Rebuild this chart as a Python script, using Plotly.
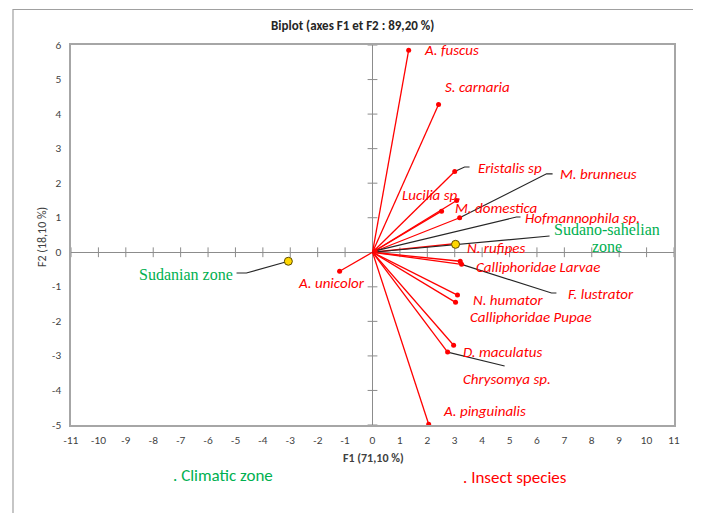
import plotly.graph_objects as go

# ---------------- data ----------------
species = ["A. fuscus", "S. carnaria", "Eristalis sp", "Lucilia sp.", "M. domestica",
           "M. brunneus", "Hofmannophila sp.", "N. rufipes", "Calliphoridae Larvae",
           "F. lustrator", "N. humator", "Calliphoridae Pupae", "D. maculatus",
           "Chrysomya sp.", "A. pinguinalis", "A. unicolor"]
species_f1 = [1.32, 2.41, 3.00, 3.07, 2.52, 3.18, 0.10, 3.00, 3.20,
              3.25, 3.10, 3.03, 2.96, 2.74, 2.05, -1.20]
species_f2 = [5.85, 4.28, 2.34, 1.50, 1.19, 1.00, 0.04, 0.25, -0.26,
              -0.35, -1.24, -1.45, -2.69, -2.89, -4.98, -0.55]

zones = ["Sudanian zone", "Sudano-sahelian zone"]
zone_f1 = [-3.07, 3.03]
zone_f2 = [-0.26, 0.23]

x_ticks = list(range(-11, 12))
y_ticks = list(range(-5, 7))
x_tick_text = [str(v) for v in x_ticks]
y_tick_text = [str(v) for v in y_ticks]

# ---------------- layout helpers (label placement) ----------------
species_label_pos = {
    "A. fuscus": (1.80, 5.85), "S. carnaria": (2.57, 4.78), "Eristalis sp": (3.76, 2.43),
    "Lucilia sp.": (0.99, 1.65), "M. domestica": (2.92, 1.27), "M. brunneus": (6.76, 2.27),
    "Hofmannophila sp.": (5.48, 0.98), "N. rufipes": (3.36, 0.12),
    "Calliphoridae Larvae": (3.69, -0.43), "F. lustrator": (7.05, -1.20),
    "N. humator": (3.58, -1.39), "Calliphoridae Pupae": (3.47, -1.88),
    "D. maculatus": (3.22, -2.89), "Chrysomya sp.": (3.22, -3.68),
    "A. pinguinalis": (2.49, -4.60), "A. unicolor": (-2.78, -0.90),
}
# each zone label as (text line, x centre, y)
zone_label_lines = {
    "Sudanian zone": [("Sudanian zone", -6.80, -0.63)],
    "Sudano-sahelian zone": [("Sudano-sahelian", 8.55, 0.67), ("zone", 8.55, 0.18)],
}

# leader lines: extra waypoints toward the labels
species_leaders = {
    "Eristalis sp": [(3.36, 2.47), (3.54, 2.47)],
    "M. brunneus": [(6.35, 2.27), (6.57, 2.27)],
    "Hofmannophila sp.": [(5.25, 1.02), (5.40, 1.02)],
    "F. lustrator": [(6.53, -1.18), (6.71, -1.18)],
    "Chrysomya sp.": [(4.82, -3.29)],
}
zone_leaders = {
    "Sudanian zone": [(-4.60, -0.60), (-4.96, -0.60)],
    "Sudano-sahelian zone": [(6.46, 0.47)],
}

RED = "#FF0000"
GREEN = "#00B050"
LABEL_FONT = "Carlito, Calibri, Lato, sans-serif"

# browser body margin (8px) compensation
OFF = 8
PL, PT, PW, PH = 71, 45, 603, 380   # plot area in page pixels

fig = go.Figure()

# cross ticks on the zero axes
fig.add_trace(go.Scatter(x=[v for v in x_ticks if v != 0], y=[0] * (len(x_ticks) - 1),
                         mode="markers", hoverinfo="skip", showlegend=False,
                         marker=dict(symbol="line-ns", size=7, line=dict(color="#8C8C8C", width=1))))
fig.add_trace(go.Scatter(x=[0] * (len(y_ticks) - 1), y=[v for v in y_ticks if v != 0],
                         mode="markers", hoverinfo="skip", showlegend=False,
                         marker=dict(symbol="line-ew", size=7, line=dict(color="#8C8C8C", width=1))))

# red vectors
vx, vy = [], []
for a, b in zip(species_f1, species_f2):
    vx += [0, a, None]
    vy += [0, b, None]
fig.add_trace(go.Scatter(x=vx, y=vy, mode="lines", line=dict(color=RED, width=1.3),
                         hoverinfo="skip", showlegend=False))

# leader lines (black)
lx, ly = [], []
for name, pts in species_leaders.items():
    i = species.index(name)
    path = [(species_f1[i], species_f2[i])] + pts
    lx += [p[0] for p in path] + [None]
    ly += [p[1] for p in path] + [None]
for name, pts in zone_leaders.items():
    i = zones.index(name)
    start = [(zone_f1[i], zone_f2[i])]
    if i == 1:  # this leader reaches back to the origin through the zone point
        start = [(0, 0)] + start
    path = start + pts
    lx += [p[0] for p in path] + [None]
    ly += [p[1] for p in path] + [None]
fig.add_trace(go.Scatter(x=lx, y=ly, mode="lines", line=dict(color="#262626", width=1.1),
                         hoverinfo="skip", showlegend=False))

# species points
fig.add_trace(go.Scatter(x=species_f1, y=species_f2, mode="markers",
                         marker=dict(color=RED, size=5), showlegend=False, text=species))

# zone points
fig.add_trace(go.Scatter(x=zone_f1, y=zone_f2, mode="markers",
                         marker=dict(color="#FFD700", size=8, line=dict(color="#5C4A00", width=1)),
                         showlegend=False, text=zones))

ann = []
for name in species:
    x, y = species_label_pos[name]
    ann.append(dict(x=x, y=y, xref="x", yref="y", text=f"<i>{name}</i>", showarrow=False,
                    xanchor="left", yanchor="middle",
                    font=dict(family=LABEL_FONT, size=15, color=RED)))
for name in zones:
    for txt, x, y in zone_label_lines[name]:
        ann.append(dict(x=x, y=y, xref="x", yref="y", text=txt, showarrow=False,
                        xanchor="center", yanchor="middle",
                        font=dict(family="Liberation Serif, Times New Roman, serif", size=16,
                                  color=GREEN)))


def px(xp):
    return (xp - PL) / PW


def py(yp):
    return (PT + PH - yp) / PH


ann.append(dict(x=px(352), y=py(26), xref="paper", yref="paper",
                text="<b>Biplot (axes F1 et F2 : 89,20 %)</b>", showarrow=False,
                xanchor="center", yanchor="middle",
                font=dict(family=LABEL_FONT, size=13, color="#262626")))
ann.append(dict(x=px(373), y=py(458), xref="paper", yref="paper", text="<b>F1 (71,10 %)</b>",
                showarrow=False, xanchor="center", yanchor="middle",
                font=dict(family=LABEL_FONT, size=12, color="#404040")))
ann.append(dict(x=px(42), y=py(237), xref="paper", yref="paper", text="F2 (18,10 %)",
                showarrow=False, xanchor="center", yanchor="middle", textangle=-90,
                font=dict(family=LABEL_FONT, size=12, color="#404040")))
ann.append(dict(x=px(171), y=py(475), xref="paper", yref="paper", text=". Climatic zone",
                showarrow=False, xanchor="left", yanchor="middle",
                font=dict(family=LABEL_FONT, size=17, color=GREEN)))
ann.append(dict(x=px(461), y=py(478), xref="paper", yref="paper", text=". Insect species",
                showarrow=False, xanchor="left", yanchor="middle",
                font=dict(family=LABEL_FONT, size=17, color=RED)))

shapes = [dict(type="rect", xref="paper", yref="paper",
               x0=px(13), x1=px(760), y0=py(560), y1=py(9.5),
               line=dict(color="#A0A0A0", width=1.2), fillcolor="rgba(0,0,0,0)", layer="below")]

axis_common = dict(showgrid=False, zeroline=True, zerolinecolor="#8C8C8C", zerolinewidth=1,
                   showline=True, mirror=True, linecolor="#A6A6A6", linewidth=1.5,
                   ticks="outside", tickcolor="rgba(0,0,0,0)",
                   tickfont=dict(family="Lato, sans-serif", size=10, color="#404040"))

W, H = 701 - OFF, 513 - OFF
fig.update_layout(
    width=W, height=H,
    margin=dict(l=PL - OFF, r=W - (PL - OFF) - PW, t=PT - OFF, b=H - (PT - OFF) - PH),
    paper_bgcolor="white", plot_bgcolor="white",
    xaxis=dict(range=[-11, 11], tickvals=x_ticks, ticktext=x_tick_text, ticklen=5, **axis_common),
    yaxis=dict(range=[-5, 6], tickvals=y_ticks, ticktext=y_tick_text, ticklen=6, **axis_common),
    annotations=ann, shapes=shapes, showlegend=False,
)

fig.write_html("out.html")
